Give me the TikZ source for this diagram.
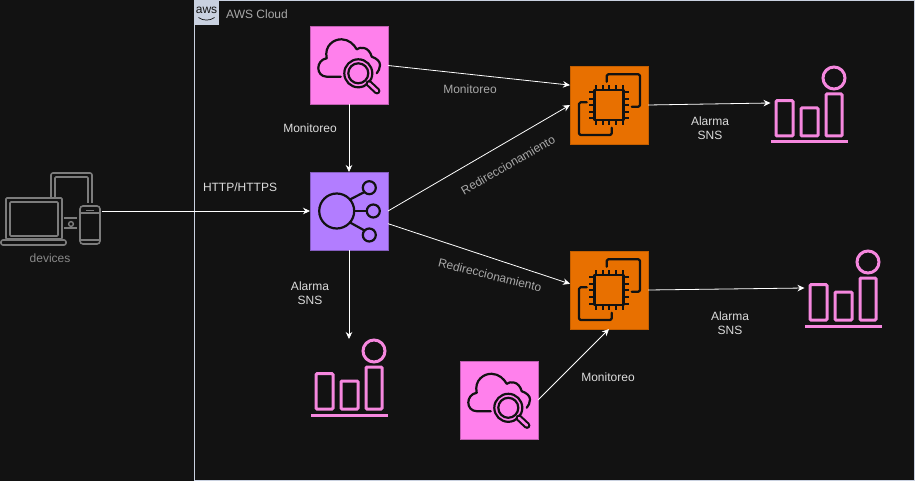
\documentclass[tikz,border=0pt]{standalone}
\usepackage{fontspec}
\setmainfont{Liberation Sans}
\usetikzlibrary{arrows.meta}
\definecolor{bgin}{HTML}{121212}
\definecolor{pinkbox}{HTML}{FF80EC}
\definecolor{purplebox}{HTML}{B27DFF}
\definecolor{orangebox}{HTML}{E87000}
\definecolor{alarmcol}{HTML}{F587DE}
\definecolor{devcol}{HTML}{7C7C7C}
\definecolor{logocol}{HTML}{C9D1E0}
\definecolor{labgray}{HTML}{A8A8A8}
\definecolor{labwhite}{HTML}{DCDCDC}
\tikzset{
  x=1pt,y=-1pt,
  iconbox/.style={minimum width=78pt,minimum height=78pt,inner sep=0pt,outer sep=0pt,line width=0.8pt},
  ghost/.style={minimum width=78pt,minimum height=78pt,inner sep=0pt,outer sep=0pt},
  conn/.style={draw=white,line width=0.8pt,-{Stealth[length=7pt,width=6.5pt]}},
  lab/.style={text=labwhite,font=\fontsize{12}{13.5}\selectfont,align=center,inner sep=0pt},
  glab/.style={text=labgray,font=\fontsize{12}{13.5}\selectfont,align=center,inner sep=0pt},
  ink/.style={draw=bgin,line width=2.2pt,line join=round,line cap=round},
  cloudicon/.pic={
    \draw[ink] (-8.3,11.2) -- (-22.3,11.2) .. controls (-33.5,11) and (-33.5,-5.5) .. (-22.3,-7.2)
      .. controls (-25,-20) and (-15,-26.5) .. (-7.3,-26.2)
      .. controls (0,-26) and (5,-21) .. (7.7,-16.2)
      .. controls (11,-19) and (20,-19) .. (22.7,-8.8)
      .. controls (28,-7) and (31,-4) .. (31,-0.5)
      .. controls (31,3) and (29.5,5.5) .. (27.7,7.8);
    \draw[ink] (9.3,7.8) circle (14);
    \draw[ink] (9.3,7.8) circle (10);
    \draw[draw=bgin,line width=6.8pt,line cap=round] (20,18) -- (28,25.5);
    \draw[draw=pinkbox,line width=2.6pt,line cap=round] (20,18) -- (28,25.5);
  },
  lbicon/.pic={
    \draw[ink] (-12.3,0) circle (17.5);
    \draw[ink] (20.3,-23.3) circle (6.5);
    \draw[ink] (24.3,0) circle (6.5);
    \draw[ink] (20.3,24) circle (6.5);
    \draw[ink] (1,-11.5) -- (15.5,-19);
    \draw[ink] (5.2,0) -- (17.8,0);
    \draw[ink] (1,11.5) -- (15.5,19.5);
  },
  chipicon/.pic={
    \draw[ink] (-14.5,-15) rectangle (14.5,15);
    \foreach \p in {-13,-6.4,0.2,6.9,13.5}{
      \draw[draw=bgin,line width=2pt] (\p,-15) -- (\p,-20);
      \draw[draw=bgin,line width=2pt] (\p,15) -- (\p,20);
      \draw[draw=bgin,line width=2pt] (-14.5,\p) -- (-20,\p);
      \draw[draw=bgin,line width=2pt] (14.5,\p) -- (20,\p);
    }
    \draw[ink,rounded corners=1.5pt] (-2.3,-23.3) -- (-2.3,-30.7) -- (31,-30.7) -- (31,1.7) -- (22.7,1.7);
    \draw[ink,rounded corners=1.5pt] (-22.3,-2.7) -- (-30,-2.7) -- (-30,30) -- (2.7,30) -- (2.7,22.7);
  },
  alarmicon/.pic={
    \draw[draw=alarmcol,line width=3pt] (-38.5,37) -- (38.5,37);
    \draw[draw=alarmcol,line width=3pt,rounded corners=1pt] (-33.5,-4.3) rectangle (-16.5,31);
    \draw[draw=alarmcol,line width=3pt,rounded corners=1pt] (-8.5,3) rectangle (8.5,31);
    \draw[draw=alarmcol,line width=3pt,rounded corners=1pt] (16.5,-11) rectangle (32.5,31);
    \draw[draw=alarmcol,line width=3pt] (24.5,-27) circle (11);
  },
  deviceicon/.pic={
    \draw[draw=devcol,line width=1.6pt,rounded corners=1pt] (-44,-13) rectangle (12,28);
    \draw[draw=devcol,line width=1.6pt,rounded corners=1pt] (-40,-9) rectangle (8,25);
    \draw[draw=devcol,line width=1.6pt,rounded corners=2pt] (-49,29) rectangle (16,34);
    \draw[draw=devcol,line width=1.6pt,rounded corners=2pt] (1,-14) -- (1,-38) -- (42,-38) -- (42,-8);
    \draw[draw=devcol,line width=1.6pt,rounded corners=1pt] (5,-14) -- (5,-34) -- (38,-34) -- (38,-8);
    \draw[draw=devcol,line width=1.6pt,rounded corners=3pt] (30,-5) rectangle (50,33);
    \draw[draw=devcol,line width=1.6pt] (30,2) -- (50,2);
    \draw[draw=devcol,line width=1.6pt] (30,29) -- (50,29);
    \draw[draw=devcol,line width=1.6pt] (36,-0.5) -- (44,-0.5);
    \draw[draw=devcol,line width=1.6pt] (14,7) -- (27,7);
    \draw[draw=devcol,line width=1.6pt] (14,17) -- (27,17);
    \draw[draw=devcol,line width=1.4pt] (21,13) circle (2.4);
  },
}
\begin{document}
\begin{tikzpicture}
\useasboundingbox (0,0) rectangle (915,481);
\fill[bgin] (0,0) rectangle (915,481);
\draw[draw=logocol,line width=1pt] (194.5,0.5) rectangle (914.5,480.5);

% AWS logo and title
\node[fill=logocol,minimum width=25pt,minimum height=25pt,inner sep=0pt] (logo) at (206.5,12.5) {};
\node[text=bgin,font=\fontsize{12}{12}\selectfont,inner sep=0pt] (logotext) at (206.5,10) {aws};
\draw[bgin,line width=0.7pt] (198.5,17.5) .. controls (203,21) and (210,21) .. (214.5,17.5);
\node[text=labgray,font=\fontsize{12}{13.5}\selectfont,inner sep=0pt] (cloudtitle) at (257,14) {AWS Cloud};

% Icon boxes
\node[iconbox,fill=pinkbox,draw=pinkbox!75!black] (mona) at (349,65.5) {};
\node[iconbox,fill=purplebox,draw=purplebox!75!black] (lb) at (349,211) {};
\node[iconbox,fill=orangebox,draw=orangebox!85!black] (ecb) at (609,105) {};
\node[iconbox,fill=orangebox,draw=orangebox!85!black] (ecc) at (609,290) {};
\node[iconbox,fill=pinkbox,draw=pinkbox!75!black] (monb) at (499,400) {};
\node[ghost] (alarma) at (809.5,103) {};
\node[ghost] (alarmb) at (843.5,288) {};
\node[ghost] (alarmc) at (349,378) {};
\node[inner sep=0pt,minimum width=1pt,minimum height=76pt] (dev) at (101,211) {};

\pic at (mona) {cloudicon};
\pic at (monb) {cloudicon};
\pic at (lb) {lbicon};
\pic at (ecb) {chipicon};
\pic at (ecc) {chipicon};
\pic at (809.5,105) {alarmicon};
\pic at (843.5,289) {alarmicon};
\pic at (349.5,378) {alarmicon};
\pic at (50,211) {deviceicon};

% Connectors
\draw[conn] (dev) -- (lb.west);
\draw[conn] (mona.south) -- (lb.north);
\draw[conn] (mona.east) -- (ecb.153);
\draw[conn] (lb.east) -- (ecb.west);
\draw[conn] (lb.-18) -- (ecc.171);
\draw[conn] (lb.south) -- (alarmc.north);
\draw[conn] (ecb.east) -- (alarma.west);
\draw[conn] (ecc.east) -- (alarmb.west);
\draw[conn] (monb.east) -- (ecc.south);

% Labels
\node[text=devcol!90!white,font=\fontsize{12}{13.5}\selectfont,inner sep=0pt] (ldevices) at (50,258) {devices};
\node[lab] (lhttp) at (240,187) {HTTP/HTTPS};
\node[lab] (lmona) at (310,128) {Monitoreo};
\node[glab] (lmonb) at (470,89) {Monitoreo};
\node[lab] (lmonc) at (608,377) {Monitoreo};
\node[glab,rotate=30] (lreda) at (508,165) {Redireccionamiento};
\node[glab,rotate=-14] (lredb) at (490,275) {Redireccionamiento};
\node[lab] (lsnsa) at (710,128) {Alarma\\SNS};
\node[lab] (lsnsb) at (730,323) {Alarma\\SNS};
\node[lab] (lsnsc) at (310,293) {Alarma\\SNS};
\end{tikzpicture}
\end{document}
